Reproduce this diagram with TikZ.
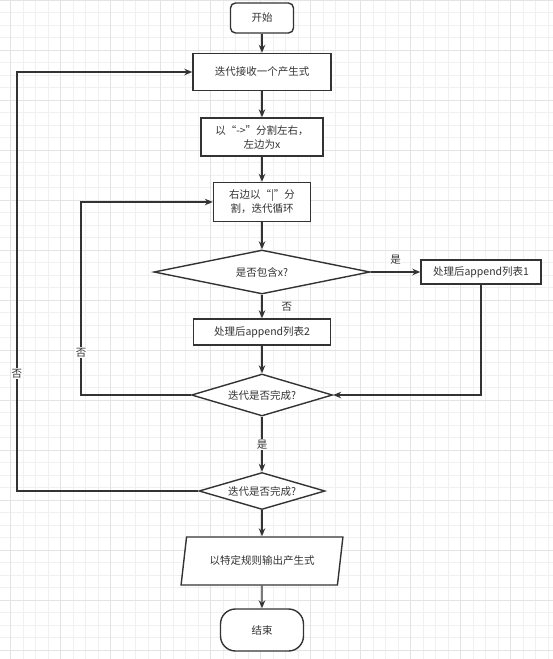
\documentclass[tikz,border=0pt]{standalone}
\usepackage{fontspec}
\newfontfamily\cjk{Noto Sans CJK SC}
\usepackage{tikz}
\usetikzlibrary{arrows.meta}
\usetikzlibrary{shapes.geometric}
\definecolor{ink}{HTML}{333333}
\definecolor{gridminor}{HTML}{F0F0F0}
\definecolor{gridmajor}{HTML}{E3E3E3}
\tikzstyle{box} = [draw=ink, fill=white, line width=1.4pt, inner sep=2pt,
    align=center, text=ink, font=\cjk\fontsize{10.5}{14}\selectfont]
\tikzstyle{proc} = [box, rectangle]
\tikzstyle{term} = [box, rectangle, rounded corners=5pt]
\tikzstyle{cond} = [box, diamond, inner sep=0pt]
\tikzstyle{io} = [box, trapezium, trapezium left angle=74,
    trapezium right angle=106, trapezium stretches=true]
\tikzstyle{flow} = [draw=ink, line width=1.4pt, ->]
\tikzstyle{lbl} = [text=ink, fill=white, inner sep=1pt,
    font=\cjk\fontsize{10.5}{14}\selectfont]
\tikzset{>={Stealth[length=8pt,width=6.5pt]}}

\begin{document}
\begin{tikzpicture}[x=1pt,y=-1pt]
\useasboundingbox (0,0) rectangle (553,659);
\begin{scope}
    \clip (0,0) rectangle (553,659);
    %grid
    \foreach \i in {-1,...,44}
        \draw[gridminor, line width=0.5pt] (10.7+12.5*\i,0) -- (10.7+12.5*\i,659);
    \foreach \j in {0,...,53}
        \draw[gridminor, line width=0.5pt] (0,12.5*\j) -- (553,12.5*\j);
    \foreach \i in {0,...,11}
        \draw[gridmajor, line width=0.6pt] (10.7+50*\i,0) -- (10.7+50*\i,659);
    \foreach \j in {0,...,13}
        \draw[gridmajor, line width=0.6pt] (0,50*\j) -- (553,50*\j);
\end{scope}
%main column
\node[term, minimum width=63, minimum height=30] (start) at (262,18) {开始};
\node[proc, minimum width=138, minimum height=37] (recv) at (262,72) {迭代接收一个产生式};
\node[proc, minimum width=122, minimum height=38] (split) at (262,137) {以“->”分割左右，\\左边为x};
\node[proc, minimum width=97, minimum height=39] (loop) at (262,202) {右边以“|”分\\割，迭代循环};
\node[cond, minimum width=216, minimum height=44, aspect=4.9] (hasx) at (262,272) {是否包含x?};
\node[proc, minimum width=120, minimum height=24] (list1) at (481,272) {处理后append列表1};
\node[proc, minimum width=137, minimum height=26] (list2) at (262,332) {处理后append列表2};
\node[cond, minimum width=141, minimum height=42, aspect=3.36] (done1) at (262,395) {迭代是否完成?};
\node[cond, minimum width=126, minimum height=37, aspect=3.4] (done2) at (262,491) {迭代是否完成?};
\node[io, minimum width=162, minimum height=48] (output) at (262,561) {以特定规则输出产生式};
\node[term, rounded corners=15pt, minimum width=83, minimum height=42] (stop) at (262,630) {结束};
%loop rails
\coordinate (inL) at (81,0);
\coordinate (outL) at (17,0);
%arrows
\draw[flow] (start) -- (recv);
\draw[flow] (recv) -- (split);
\draw[flow] (split) -- (loop);
\draw[flow] (loop) -- (hasx);
\draw[flow] (hasx) -- node[lbl, above=6pt] {是} (list1);
\draw[flow] (hasx) -- node[lbl, right=18pt] {否} (list2);
\draw[flow] (list2) -- (done1);
\draw[flow] (list1) |- (done1);
\draw[flow] (done1.west) -- (inL |- done1.west)
    -- node[lbl, pos=0.22] {否} (inL |- loop.west) -- (loop.west);
\draw[flow] (done1) -- node[lbl] {是} (done2);
\draw[flow] (done2.west) -- (outL |- done2.west)
    -- node[lbl, pos=0.28] {否} (outL |- recv.west) -- (recv.west);
\draw[flow] (done2) -- (output);
\draw[flow] (output) -- (stop);
\end{tikzpicture}
\end{document}
